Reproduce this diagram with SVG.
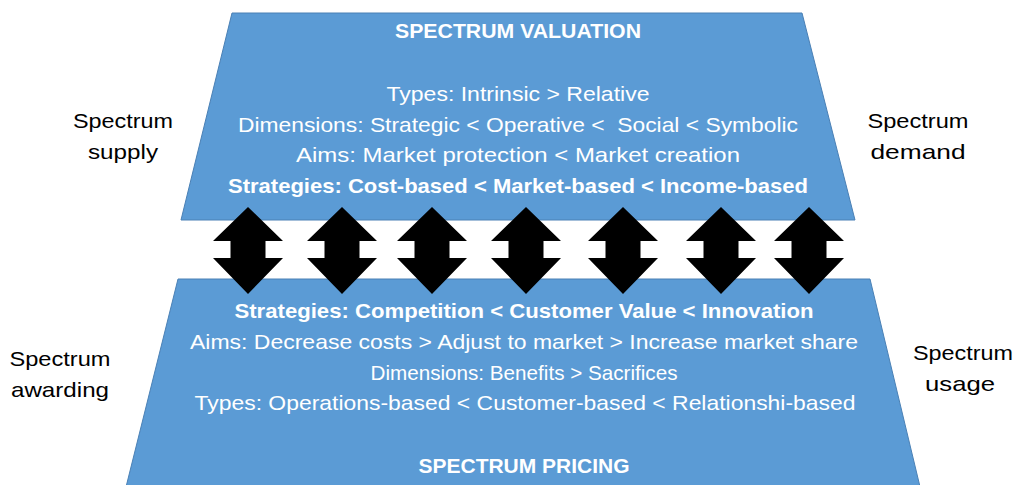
<svg xmlns="http://www.w3.org/2000/svg" xmlns:xlink="http://www.w3.org/1999/xlink" width="1016" height="485" viewBox="0 0 1016 485">
  <style>
    .trap { fill: #5B9BD5; stroke: #4A80B5; stroke-width: 1; }
    .t { font-family: "Liberation Sans", Arial, sans-serif; font-size: 21px; fill: #FFFFFF; text-anchor: middle; }
    .b { font-weight: bold; }
    .lbl { font-family: "Liberation Sans", Arial, sans-serif; font-size: 21px; fill: #000000; text-anchor: middle; }
    .arrow { fill: #000000; }
  </style>
  <defs>
    <path id="dblarrow" d="M0,-43.5 L35,-9.5 L17.5,-9.5 L17.5,7.5 L35,7.5 L0,43.5 L-35,7.5 L-17.5,7.5 L-17.5,-9.5 L-35,-9.5 Z"/>
  </defs>
  <rect width="1016" height="485" fill="#FFFFFF"/>

  <g id="valuation">
    <path class="trap" d="M232,13 L802,13 L855,220 L181,220 Z"/>
    <text class="t b" x="518" y="38" textLength="246" lengthAdjust="spacingAndGlyphs">SPECTRUM VALUATION</text>
    <text class="t" x="518" y="101" textLength="263" lengthAdjust="spacingAndGlyphs">Types: Intrinsic &gt; Relative</text>
    <text class="t" x="518" y="132" textLength="560" lengthAdjust="spacingAndGlyphs" xml:space="preserve">Dimensions: Strategic &lt; Operative &lt;  Social &lt; Symbolic</text>
    <text class="t" x="518" y="162" textLength="444" lengthAdjust="spacingAndGlyphs">Aims: Market protection &lt; Market creation</text>
    <text class="t b" x="518" y="193" textLength="580" lengthAdjust="spacingAndGlyphs">Strategies: Cost-based &lt; Market-based &lt; Income-based</text>
  </g>

  <g id="pricing">
    <path class="trap" d="M178,279 L870,279 L922,495 L124,495 Z"/>
    <text class="t b" x="524" y="318" textLength="579" lengthAdjust="spacingAndGlyphs">Strategies: Competition &lt; Customer Value &lt; Innovation</text>
    <text class="t" x="524" y="349" textLength="668" lengthAdjust="spacingAndGlyphs">Aims: Decrease costs &gt; Adjust to market &gt; Increase market share</text>
    <text class="t" x="524" y="380" textLength="307" lengthAdjust="spacingAndGlyphs">Dimensions: Benefits &gt; Sacrifices</text>
    <text class="t" x="525" y="410" textLength="661" lengthAdjust="spacingAndGlyphs">Types: Operations-based &lt; Customer-based &lt; Relationshi-based</text>
    <text class="t b" x="524" y="473" textLength="211" lengthAdjust="spacingAndGlyphs">SPECTRUM PRICING</text>
  </g>

  <g id="label-supply">
    <text class="lbl" x="123" y="128" textLength="100" lengthAdjust="spacingAndGlyphs">Spectrum</text>
    <text class="lbl" x="123" y="159" textLength="70" lengthAdjust="spacingAndGlyphs">supply</text>
  </g>
  <g id="label-demand">
    <text class="lbl" x="918" y="128" textLength="101" lengthAdjust="spacingAndGlyphs">Spectrum</text>
    <text class="lbl" x="918" y="159" textLength="95" lengthAdjust="spacingAndGlyphs">demand</text>
  </g>
  <g id="label-awarding">
    <text class="lbl" x="60" y="366" textLength="101" lengthAdjust="spacingAndGlyphs">Spectrum</text>
    <text class="lbl" x="60" y="397" textLength="98" lengthAdjust="spacingAndGlyphs">awarding</text>
  </g>
  <g id="label-usage">
    <text class="lbl" x="963" y="360" textLength="100" lengthAdjust="spacingAndGlyphs">Spectrum</text>
    <text class="lbl" x="960" y="391" textLength="70" lengthAdjust="spacingAndGlyphs">usage</text>
  </g>

  <g id="connectors" class="arrow">
    <use xlink:href="#dblarrow" href="#dblarrow" x="248" y="250.5"/>
    <use xlink:href="#dblarrow" href="#dblarrow" x="342" y="250.5"/>
    <use xlink:href="#dblarrow" href="#dblarrow" x="432" y="250.5"/>
    <use xlink:href="#dblarrow" href="#dblarrow" x="526" y="250.5"/>
    <use xlink:href="#dblarrow" href="#dblarrow" x="623" y="250.5"/>
    <use xlink:href="#dblarrow" href="#dblarrow" x="721" y="250.5"/>
    <use xlink:href="#dblarrow" href="#dblarrow" x="809" y="250.5"/>
  </g>
</svg>
